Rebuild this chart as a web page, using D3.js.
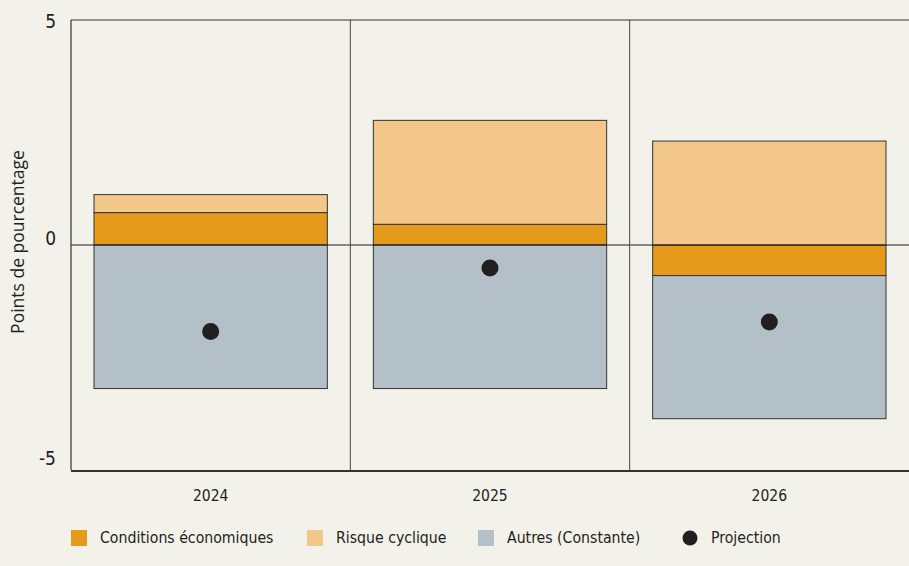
<!DOCTYPE html>
<html>
  <head>
    <meta charset="utf-8">
    <title>Points de pourcentage</title>
    <style>
      html, body {
        margin: 0;
        padding: 0;
        background: #f2f1ea;
      }
      svg text {
        font-family: "DejaVu Sans Condensed", "DejaVu Sans", sans-serif;
        fill: #231f20;
      }
    </style>
  </head>
  <body>
    <div id="chart"></div>
    <script src="https://cdn.jsdelivr.net/npm/d3@7"></script>
    <script>

      // Data
      var years = ['2024', '2025', '2026']
      var conditions = [0.72, 0.46, -0.68]   // Conditions économiques
      var risque = [0.40, 2.31, 2.31]        // Risque cyclique
      var autres = [-3.19, -3.19, -3.18]     // Autres (Constante)
      var projection = [-1.92, -0.51, -1.71]
      var yTicks = [-5, 0, 5]

      var width = 909, height = 566
      var margin = {top: 20, right: 0, bottom: 96, left: 71}

      var svg = d3.select('#chart')
        .append('svg')
        .attr('width', width)
        .attr('height', height)

      svg.append('rect')
        .attr('width', width)
        .attr('height', height)
        .attr('fill', '#f2f1ea')

      var x = d3.scaleBand()
        .domain(years)
        .range([margin.left, width - margin.right])
        .paddingInner(0)
        .paddingOuter(0)

      var y = d3.scaleLinear()
        .domain([-5, 5])
        .range([height - margin.bottom, margin.top])

      // table for the stack
      var table = years.map(function(d, i) {
        return {year: d, econ: conditions[i], risk: risque[i], other: autres[i]}
      })

      var keys = ['econ', 'risk', 'other']
      var colors = {econ: '#e69a1c', risk: '#f3c789', other: '#b4c0c7'}

      var series = d3.stack()
        .keys(keys)
        .offset(d3.stackOffsetDiverging)(table)

      var barPad = 23
      var g = svg.append('g')

      series.forEach(function(s) {
        g.append('g')
          .selectAll('rect')
          .data(s)
          .enter()
          .append('rect')
          .attr('x', function(d) { return x(d.data.year) + barPad })
          .attr('width', x.bandwidth() - 2 * barPad)
          .attr('y', function(d) { return y(Math.max(d[0], d[1])) })
          .attr('height', function(d) { return Math.abs(y(d[0]) - y(d[1])) })
          .attr('fill', colors[s.key])
          .attr('stroke', '#333')
          .attr('stroke-width', 1)
      })

      // zero line
      svg.append('line')
        .attr('x1', margin.left)
        .attr('x2', width)
        .attr('y1', y(0))
        .attr('y2', y(0))
        .attr('stroke', '#231f20')
        .attr('stroke-width', 1.2)

      // frame
      svg.append('line')
        .attr('x1', margin.left).attr('x2', width)
        .attr('y1', y(5)).attr('y2', y(5))
        .attr('stroke', '#333').attr('stroke-width', 1.2)
      svg.append('line')
        .attr('x1', margin.left).attr('x2', margin.left)
        .attr('y1', y(5)).attr('y2', y(-5))
        .attr('stroke', '#333').attr('stroke-width', 1.2)
      svg.append('line')
        .attr('x1', margin.left).attr('x2', width)
        .attr('y1', y(-5) + 1).attr('y2', y(-5) + 1)
        .attr('stroke', '#333').attr('stroke-width', 2)

      // dividers between years
      svg.selectAll('.divider')
        .data(years.slice(1))
        .enter()
        .append('line')
        .attr('x1', function(d) { return x(d) })
        .attr('x2', function(d) { return x(d) })
        .attr('y1', y(5))
        .attr('y2', y(-5))
        .attr('stroke', '#444')
        .attr('stroke-width', 1)

      // projection dots
      svg.selectAll('.dot')
        .data(projection)
        .enter()
        .append('circle')
        .attr('cx', function(d, i) { return x(years[i]) + x.bandwidth() / 2 })
        .attr('cy', function(d) { return y(d) })
        .attr('r', 8.5)
        .attr('fill', '#231f20')

      // y ticks (kept inside the plot height)
      svg.selectAll('.ytick')
        .data(yTicks)
        .enter()
        .append('text')
        .attr('x', 56)
        .attr('y', function(d) { return Math.min(Math.max(y(d), margin.top + 8), y(-5) - 5) })
        .attr('text-anchor', 'end')
        .style('font-size', '19px')
        .text(function(d) { return d })

      // x labels
      svg.selectAll('.xlab')
        .data(years)
        .enter()
        .append('text')
        .attr('x', function(d) { return x(d) + x.bandwidth() / 2 })
        .attr('y', 501)
        .attr('text-anchor', 'middle')
        .style('font-size', '15.5px')
        .text(function(d) { return d })

      // y title
      svg.append('text')
        .attr('transform', 'translate(24,' + (y(0) - 3) + ') rotate(-90)')
        .attr('text-anchor', 'middle')
        .style('font-family', '"Open Sans", "Noto Sans", sans-serif')
        .style('font-size', '17.5px')
        .text('Points de pourcentage')

      // Legend
      var legend = [
        {label: 'Conditions économiques', color: colors.econ, x: 71},
        {label: 'Risque cyclique', color: colors.risk, x: 307},
        {label: 'Autres (Constante)', color: colors.other, x: 478},
        {label: 'Projection', color: '#231f20', x: 682, dot: true}
      ]
      var ly = 538

      legend.forEach(function(d) {
        if (d.dot) {
          svg.append('circle')
            .attr('cx', d.x + 8).attr('cy', ly).attr('r', 7.5)
            .attr('fill', d.color)
        } else {
          svg.append('rect')
            .attr('x', d.x).attr('y', ly - 8)
            .attr('width', 16).attr('height', 16)
            .attr('fill', d.color)
        }
        svg.append('text')
          .attr('x', d.x + 29)
          .attr('y', ly)
          .attr('dy', '0.35em')
          .style('font-size', '15.7px')
          .text(d.label)
      })

    </script>
  </body>
</html>
